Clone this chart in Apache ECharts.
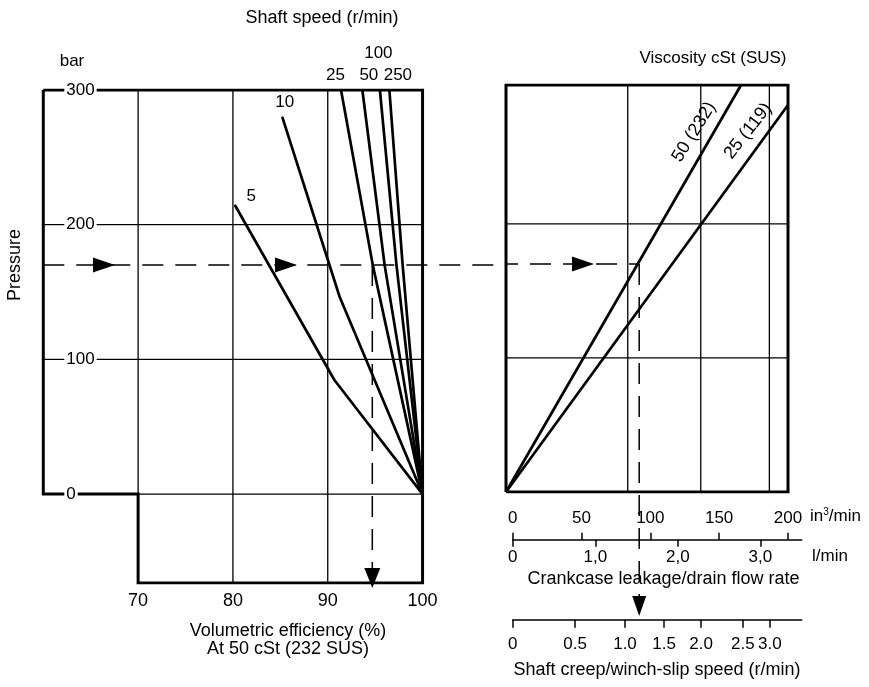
<!DOCTYPE html>
<html><head><meta charset="utf-8">
<script src="https://cdn.jsdelivr.net/npm/echarts@6/dist/echarts.min.js"></script>
<style>html,body{margin:0;padding:0;background:#fff}#c{width:869px;height:687px}</style>
</head><body><div id="c"></div>
<script>
const FONT = '"Liberation Sans", Arial, sans-serif';

// ---------- data ----------
const efficiencyTicks = [70, 80, 90, 100];
const efficiencyGrid = [70, 80, 90];
const pressureTicks = [0, 100, 200, 300];
const pressureGrid = [100, 200];
const speedNames = ['5', '10', '25', '50', '100', '250'];
const speed5 = [[80.2, 214.6], [90.7, 84.7], [100, 0]];
const speed10 = [[85.2, 280], [91.25, 146.5], [100, 0]];
const speed25 = [[91.4, 300], [94.75, 170], [100, 0]];
const speed50 = [[93.65, 300], [96.0, 170], [100, 0]];
const speed100 = [[95.5, 300], [97.25, 170], [100, 0]];
const speed250 = [[96.5, 300], [97.9, 170], [100, 0]];
const viscNames = ['50 (232)', '25 (119)'];
const visc50 = [[0, 0], [170.3, 303.5]];
const visc25 = [[0, 0], [204.3, 288.6]];
const flowGrid = [88.2, 141.1, 190.8];
const flowIn3Ticks = [0, 50, 100, 150, 200];
const flowLminTicks = [0, 1, 2, 3];
const creepLabels = ['0', '0.5', '1.0', '1.5', '2.0', '2.5', '3.0'];
const creepAtFlow = [0, 45.3, 81.6, 110, 136.9, 167.2, 186.9];
const readPressure = 170, readEfficiency = 94.7, readFlow = 96.5;

// axis extents
const effMin = 60, effMax = 100, effAxisMax = 108.8, pMin = -66, pMax = 300;
const rFlowMax = 204.3, rPMax = 303.5;

const black = '#000';
const speedSets = [speed5, speed10, speed25, speed50, speed100, speed250];
const speedLabelOffset = [[17, -8], [3, -14], [-5, -14], [7, -14], [-1, -36], [9, -14]];

function seg(data, gi, width, extra) {
  return Object.assign({
    type: 'line', xAxisIndex: gi, yAxisIndex: gi, data: data, showSymbol: false, silent: true,
    animation: false, lineStyle: { color: black, width: width, join: 'miter', cap: 'butt' }, z: 2
  }, extra || {});
}

const series = [];
// left grid lines
efficiencyGrid.forEach(v => series.push(seg([[v, pMin], [v, pMax]], 0, 1.3)));
pressureGrid.forEach(v => series.push(seg([[effMin, v], [effMax, v]], 0, 1.3)));
series.push(seg([[70, 0], [effMax, 0]], 0, 1.3));
// left frame
series.push(seg([[effMin, pMax], [effMax, pMax], [effMax, pMin], [70, pMin], [70, 0], [effMin, 0], [effMin, pMax]], 0, 3));
// speed curves
speedSets.forEach((pts, k) => {
  series.push({
    type: 'line', xAxisIndex: 0, yAxisIndex: 0, silent: true, animation: false,
    symbol: 'circle', symbolSize: 1, showSymbol: true, showAllSymbol: true,
    itemStyle: { color: black }, lineStyle: { color: black, width: 2.7 }, z: 3,
    data: pts.map((p, i) => i === 0 ? {
      value: p, label: {
        show: true, formatter: speedNames[k], position: speedLabelOffset[k], align: 'center', verticalAlign: 'middle',
        fontSize: 17, fontFamily: FONT, color: black
      }
    } : { value: p, label: { show: false } })
  });
});
// right grid lines
flowGrid.forEach(v => series.push(seg([[v, 0], [v, rPMax]], 1, 1.3)));
pressureGrid.forEach(v => series.push(seg([[0, v], [rFlowMax, v]], 1, 1.3)));
series.push(seg([[0, 0], [rFlowMax, 0], [rFlowMax, rPMax], [0, rPMax], [0, 0]], 1, 3));
series.push(seg(visc50, 1, 2.7, { z: 3 }));
series.push(seg(visc25, 1, 2.7, { z: 3 }));

// reading guide (dashed)
const dash = { color: black, width: 1.5, type: [21, 12] };
series.push(seg([[effMin, readPressure], [effAxisMax, readPressure]], 0, 1.5, { clip: false, lineStyle: dash, z: 4 }));
series.push(seg([[0, readPressure], [readFlow, readPressure]], 1, 1.5, { clip: false, lineStyle: Object.assign({}, dash, { dashOffset: 9 }), z: 4 }));
series.push(seg([[readEfficiency, readPressure], [readEfficiency, -58]], 0, 1.5, { clip: false, lineStyle: dash, z: 4 }));
series.push(seg([[readFlow, readPressure], [readFlow, -78]], 1, 1.5, { clip: false, lineStyle: dash, z: 4 }));
// arrows
const rightArrow = 'path://M0,0 L10,5 L0,10 Z';
const downArrow = 'path://M0,0 L10,0 L5,10 Z';
const arrowStyle = { color: black, opacity: 1 };
series.push({ type: 'scatter', xAxisIndex: 0, yAxisIndex: 0, clip: false, silent: true, animation: false, z: 5,
  symbol: rightArrow, symbolSize: [22, 15], itemStyle: arrowStyle, data: [[66.4, readPressure], [85.6, readPressure]] });
series.push({ type: 'scatter', xAxisIndex: 1, yAxisIndex: 1, clip: false, silent: true, animation: false, z: 5,
  symbol: rightArrow, symbolSize: [22, 15], itemStyle: arrowStyle, data: [[55.8, readPressure]] });
series.push({ type: 'scatter', xAxisIndex: 0, yAxisIndex: 0, clip: false, silent: true, animation: false, z: 5,
  symbol: downArrow, symbolSize: [16, 20], itemStyle: arrowStyle, data: [[readEfficiency, -62.3]] });
series.push({ type: 'scatter', xAxisIndex: 1, yAxisIndex: 1, clip: false, silent: true, animation: false, z: 5,
  symbol: downArrow, symbolSize: [14, 20], itemStyle: arrowStyle, data: [[readFlow, -85]] });
// dummy series for bottom grids (keep axes alive)
series.push({ type: 'line', xAxisIndex: 2, yAxisIndex: 2, data: [], silent: true });
series.push({ type: 'line', xAxisIndex: 3, yAxisIndex: 2, data: [], silent: true });
series.push({ type: 'line', xAxisIndex: 4, yAxisIndex: 3, data: [], silent: true });

const lbl = { fontSize: 17, fontFamily: FONT, color: black };
const hidden = { show: false };

const option = {
  backgroundColor: '#fff',
  animation: false,
  grid: [
    { left: 43.3, top: 90, width: 462.7, height: 493 },
    { left: 506, top: 85, width: 282, height: 407 },
    { left: 512.7, top: 538.8, width: 289, height: 1 },
    { left: 512.7, top: 618.8, width: 289, height: 1 }
  ],
  xAxis: [
    { gridIndex: 0, type: 'value', min: effMin, max: effAxisMax, axisLine: hidden, axisTick: hidden, splitLine: hidden,
      axisLabel: { customValues: efficiencyTicks, margin: 9, fontSize: 18, fontFamily: FONT, color: black } },
    { gridIndex: 1, type: 'value', min: 0, max: rFlowMax, show: false },
    { gridIndex: 2, type: 'value', position: 'top', min: 0, max: 210,
      axisLine: { show: true, lineStyle: { color: black, width: 1.6 } },
      axisTick: { show: true, customValues: flowIn3Ticks, length: 7, lineStyle: { color: black, width: 1.5 } },
      axisLabel: Object.assign({ customValues: flowIn3Ticks, margin: 12 }, lbl), splitLine: hidden },
    { gridIndex: 2, type: 'value', position: 'bottom', min: 0, max: 3.5,
      axisLine: { show: false },
      axisTick: { show: true, customValues: flowLminTicks, length: 7, lineStyle: { color: black, width: 1.5 } },
      axisLabel: Object.assign({ customValues: flowLminTicks, margin: 9,
        formatter: v => v === 0 ? '0' : v.toFixed(1).replace('.', ',') }, lbl), splitLine: hidden },
    { gridIndex: 3, type: 'value', position: 'bottom', min: 0, max: 210,
      axisLine: { show: true, lineStyle: { color: black, width: 1.6 } },
      axisTick: { show: true, customValues: creepAtFlow, length: 8, lineStyle: { color: black, width: 1.5 } },
      axisLabel: Object.assign({ customValues: creepAtFlow, margin: 16,
        formatter: v => {
          let best = 0;
          creepAtFlow.forEach((c, i) => { if (Math.abs(c - v) < Math.abs(creepAtFlow[best] - v)) best = i; });
          return creepLabels[best];
        } }, lbl), splitLine: hidden }
  ],
  yAxis: [
    { gridIndex: 0, type: 'value', min: pMin, max: pMax, z: 10, axisLine: hidden, axisTick: hidden, splitLine: hidden,
      axisLabel: Object.assign({ customValues: pressureTicks, inside: true, margin: 21, backgroundColor: '#fff', padding: [0, 2, 0, 2] }, lbl) },
    { gridIndex: 1, type: 'value', min: 0, max: rPMax, show: false },
    { gridIndex: 2, type: 'value', min: 0, max: 1, show: false },
    { gridIndex: 3, type: 'value', min: 0, max: 1, show: false }
  ],
  graphic: [
    { type: 'text', x: 322, y: 18, style: { text: 'Shaft speed (r/min)', font: '18px ' + FONT, fill: black, align: 'center', verticalAlign: 'middle' } },
    { type: 'text', x: 72, y: 61, style: { text: 'bar', font: '17px ' + FONT, fill: black, align: 'center', verticalAlign: 'middle' } },
    { type: 'text', x: 713, y: 58, style: { text: 'Viscosity cSt (SUS)', font: '17px ' + FONT, fill: black, align: 'center', verticalAlign: 'middle' } },
    { type: 'text', x: 15, y: 265, rotation: Math.PI / 2, style: { text: 'Pressure', font: '18px ' + FONT, fill: black, align: 'center', verticalAlign: 'middle' } },
    { type: 'text', x: 288, y: 631, style: { text: 'Volumetric efficiency (%)', font: '18px ' + FONT, fill: black, align: 'center', verticalAlign: 'middle' } },
    { type: 'text', x: 288, y: 649, style: { text: 'At 50 cSt (232 SUS)', font: '18px ' + FONT, fill: black, align: 'center', verticalAlign: 'middle' } },
    { type: 'text', x: 810, y: 516, style: { text: 'in{sup|3}/min', font: '17px ' + FONT, fill: black, align: 'left', verticalAlign: 'middle',
      rich: { sup: { fontSize: 10, fontFamily: FONT, verticalAlign: 'top', padding: [0, 0, 6, 0] } } } },
    { type: 'text', x: 812, y: 556, style: { text: 'l/min', font: '17px ' + FONT, fill: black, align: 'left', verticalAlign: 'middle' } },
    { type: 'text', x: 663.5, y: 579, style: { text: 'Crankcase leakage/drain flow rate', font: '18px ' + FONT, fill: black, align: 'center', verticalAlign: 'middle' } },
    { type: 'text', x: 657, y: 670, style: { text: 'Shaft creep/winch-slip speed (r/min)', font: '18px ' + FONT, fill: black, align: 'center', verticalAlign: 'middle' } },
    { type: 'text', x: 694, y: 132, rotation: 58 * Math.PI / 180, style: { text: viscNames[0], font: '18px ' + FONT, fill: black, align: 'center', verticalAlign: 'middle' } },
    { type: 'text', x: 748, y: 131, rotation: 52 * Math.PI / 180, style: { text: viscNames[1], font: '18px ' + FONT, fill: black, align: 'center', verticalAlign: 'middle' } }
  ],
  series: series
};
const chart = echarts.init(document.getElementById('c'), null, { renderer: 'canvas' });
chart.setOption(option);
</script></body></html>
